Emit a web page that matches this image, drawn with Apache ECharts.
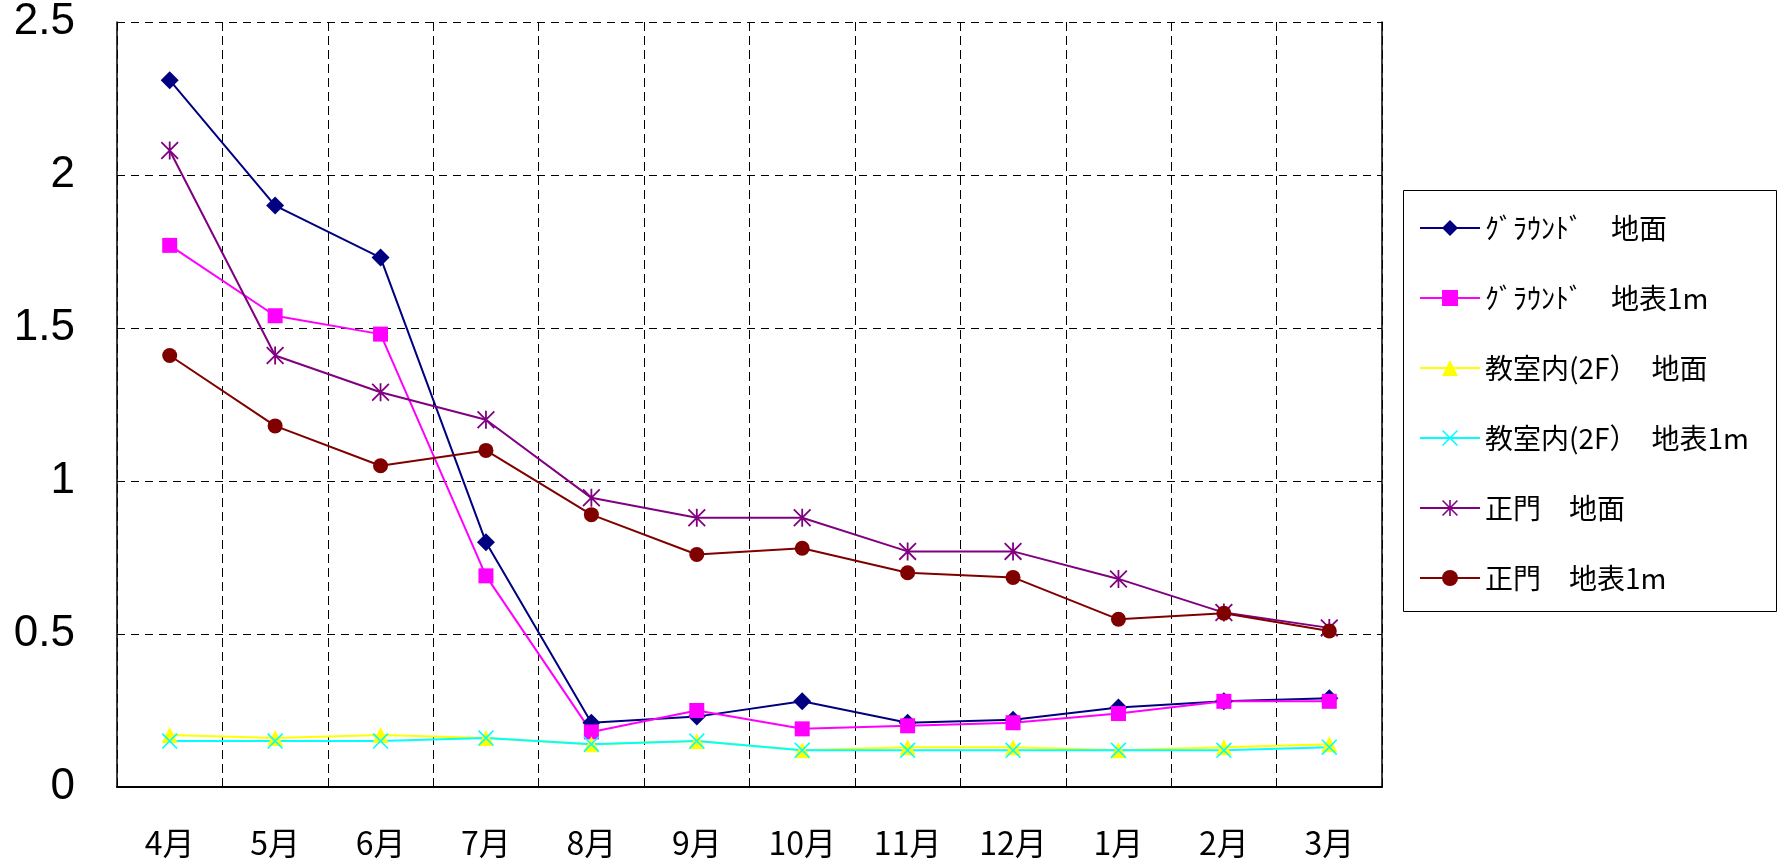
<!DOCTYPE html>
<html>
<head>
<meta charset="utf-8">
<script src="https://cdn.jsdelivr.net/npm/echarts@6/dist/echarts.min.js"></script>
<style>
html,body{margin:0;padding:0;background:#fff;}
#chart{width:1792px;height:865px;}
</style>
</head>
<body>
<div id="chart"></div>
<script>
const categories = ['4月','5月','6月','7月','8月','9月','10月','11月','12月','1月','2月','3月'];
const seriesNames = ['ｸﾞﾗｳﾝﾄﾞ　地面','ｸﾞﾗｳﾝﾄﾞ　地表1m','教室内(2F）　地面','教室内(2F）　地表1m','正門　地面','正門　地表1m'];
const groundSurface = [2.31,1.90,1.73,0.80,0.21,0.23,0.28,0.21,0.22,0.26,0.28,0.29];
const ground1m      = [1.77,1.54,1.48,0.69,0.18,0.25,0.19,0.20,0.21,0.24,0.28,0.28];
const roomSurface   = [0.17,0.16,0.17,0.16,0.14,0.15,0.12,0.13,0.13,0.12,0.13,0.14];
const room1m        = [0.15,0.15,0.15,0.16,0.14,0.15,0.12,0.12,0.12,0.12,0.12,0.13];
const gateSurface   = [2.08,1.41,1.29,1.20,0.945,0.88,0.88,0.77,0.77,0.68,0.57,0.52];
const gate1m        = [1.41,1.18,1.05,1.10,0.89,0.76,0.78,0.70,0.685,0.548,0.568,0.51];
const yTicks = [0,0.5,1,1.5,2,2.5];

const X_PATH = 'path://M0,1.4 L1.4,0 L20,18.6 L18.6,20 Z M18.6,0 L20,1.4 L1.4,20 L0,18.6 Z';
const STAR_PATH = 'path://M0,1.4 L1.4,0 L20,18.6 L18.6,20 Z M18.6,0 L20,1.4 L1.4,20 L0,18.6 Z M9,0 L11,0 L11,20 L9,20 Z';

const defs = [
  {data: groundSurface, color:'#000080', symbol:'diamond', size:18},
  {data: ground1m, color:'#FF00FF', symbol:'rect', size:15},
  {data: roomSurface, color:'#FFFF00', symbol:'triangle', size:16},
  {data: room1m, color:'#00FFFF', symbol:X_PATH, size:16},
  {data: gateSurface, color:'#800080', symbol:STAR_PATH, size:18},
  {data: gate1m, color:'#800000', symbol:'circle', size:15}
];

const chart = echarts.init(document.getElementById('chart'));
const option = {
  backgroundColor:'#fff',
  animation:false,
  grid:{left:117, top:22, width:1265, height:765, containLabel:false},
  graphic:[{
    type:'rect', left:1403, top:190, z:-1,
    shape:{width:373, height:421},
    style:{fill:'#fff', stroke:'#000', lineWidth:1}
  }],
  legend:{
    orient:'vertical', left:1419, top:214, padding:0,
    itemWidth:60, itemHeight:20, itemGap:42,
    textStyle:{fontFamily:'Noto Sans CJK JP', fontSize:28, color:'#000', lineHeight:28},
    data: seriesNames
  },
  xAxis:{
    type:'category', data:categories, boundaryGap:true,
    axisLine:{lineStyle:{color:'#000', width:2}},
    axisTick:{show:false},
    axisLabel:{fontFamily:'Noto Sans CJK JP', fontSize:32, color:'#000', margin:40, lineHeight:32, interval:0},
    splitLine:{show:true, interval:0, lineStyle:{color:'#000', type:[9,5], width:1}}
  },
  yAxis:[{
    type:'value', min:yTicks[0], max:yTicks[yTicks.length-1], interval:0.5,
    axisLine:{show:true, lineStyle:{color:'#000', width:1.5}},
    axisTick:{show:true, inside:true, length:6, lineStyle:{color:'#000'}},
    axisLabel:{fontFamily:'Liberation Sans', fontSize:44, color:'#000', margin:42},
    splitLine:{show:true, lineStyle:{color:'#000', type:[8,6], width:1}}
  },{
    type:'value', position:'right', min:yTicks[0], max:yTicks[yTicks.length-1], interval:0.5,
    axisLine:{show:true, lineStyle:{color:'#000', width:1.5}},
    axisTick:{show:false}, axisLabel:{show:false}, splitLine:{show:false}
  }],
  series: defs.map((d,i)=>({
    name: seriesNames[i], type:'line', data:d.data,
    symbol:d.symbol, symbolSize:d.size, showAllSymbol:true,
    lineStyle:{color:d.color, width:2},
    itemStyle:{color:d.color},
    emphasis:{disabled:true}
  }))
};
chart.setOption(option);
</script>
</body>
</html>
